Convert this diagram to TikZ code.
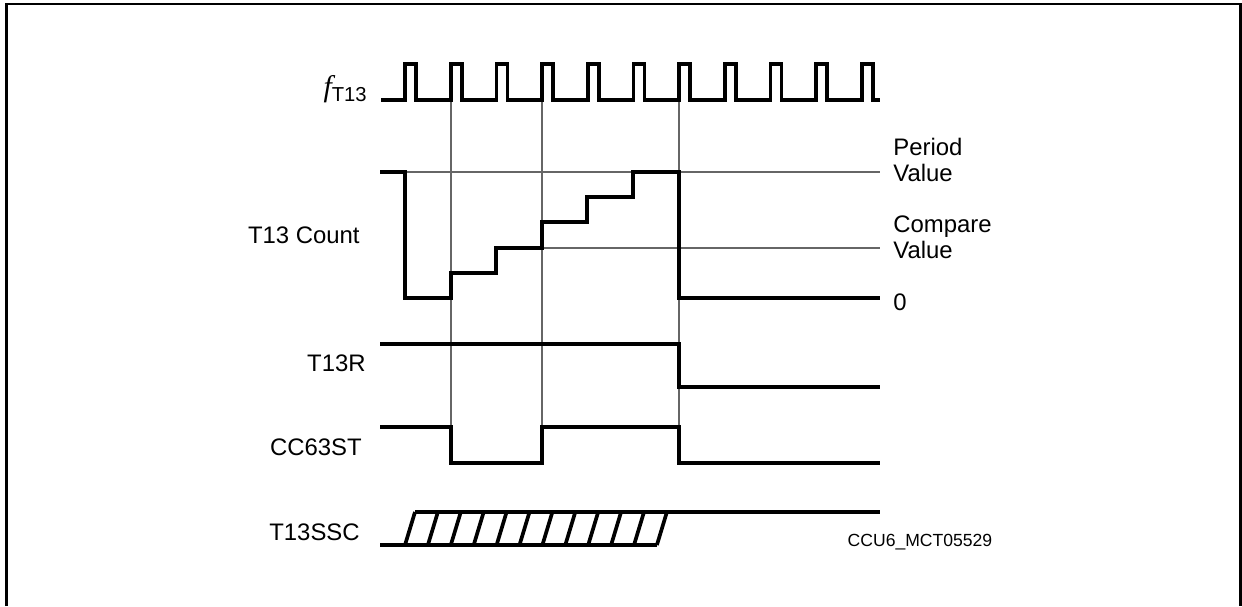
\documentclass[tikz,border=0pt]{standalone}
\usepackage{fontspec}
\setmainfont{Liberation Sans}
\newfontfamily\seriffont{Liberation Serif}
\usetikzlibrary{positioning}

\begin{document}
\begin{tikzpicture}[
    x=0.02cm, y=-0.02cm,
    sig/.style={
        line width=2.1pt,
        line join=miter
    },
    guide/.style={
        draw=black!60,
        line width=0.65pt
    },
    lbl/.style={
        anchor=east,
        inner sep=0pt,
        font=\fontsize{13.6}{15}\selectfont
    },
    val/.style={
        anchor=west,
        inner sep=0pt,
        align=left,
        font=\fontsize{13.6}{14.8}\selectfont
    }
]

\useasboundingbox (0,0) rectangle (1242,606);
\draw[line width=1.3pt] (6.5,606) -- (6.5,4) -- (1240.5,4) -- (1240.5,606);

\draw[guide] (405,172) -- (880,172);
\draw[guide] (542,248) -- (880,248);
\foreach \x in {451,542,679}
    \draw[guide] (\x,100) -- (\x,463);

\draw[sig] (381,100) foreach \k in {0,...,10} {
    -- ({405+45.7*\k},100) -- ++(0,-36) -- ++(11,0) -- ++(0,36)
} -- (880,100);

\draw[sig] (380,172) -| (405,298) -| (451,273) -| (496,248) -| (542,222)
    -| (587,197) -| (633,172) -| (679,298) -- (880,298);

\draw[sig] (380,344) -| (679,387) -- (880,387);

\draw[sig] (380,427) -| (451,463) -| (542,427) -| (679,463) -- (880,463);

\draw[sig] (380,545) -- (657,545);
\draw[sig] (415,512) -- (880,512);
\foreach \i in {0,...,11}
    \draw[sig] ({405+22.9*\i},545) -- ++(10,-33);

\node[lbl] (clk) at (367,89) {{\seriffont\itshape\fontsize{17}{17}\selectfont f}\raisebox{-0.4ex}{\fontsize{11.5}{12}\selectfont T13}};
\node[lbl] (count) at (360,235) {T13 Count};
\node[lbl] (t13r) at (366,363) {T13R};
\node[lbl] (cc63st) at (362,447) {CC63ST};
\node[lbl] (t13ssc) at (360,532) {T13SSC};

\node[val] (period) at (893,160) {Period\\Value};
\node[val] (compare) at (893,237) {Compare\\Value};
\node[val] (zero) at (893,302) {0};

\node[inner sep=0pt, font=\fontsize{10}{12}\selectfont] (figid) at (920,542) {CCU6\_MCT05529};

\end{tikzpicture}
\end{document}
